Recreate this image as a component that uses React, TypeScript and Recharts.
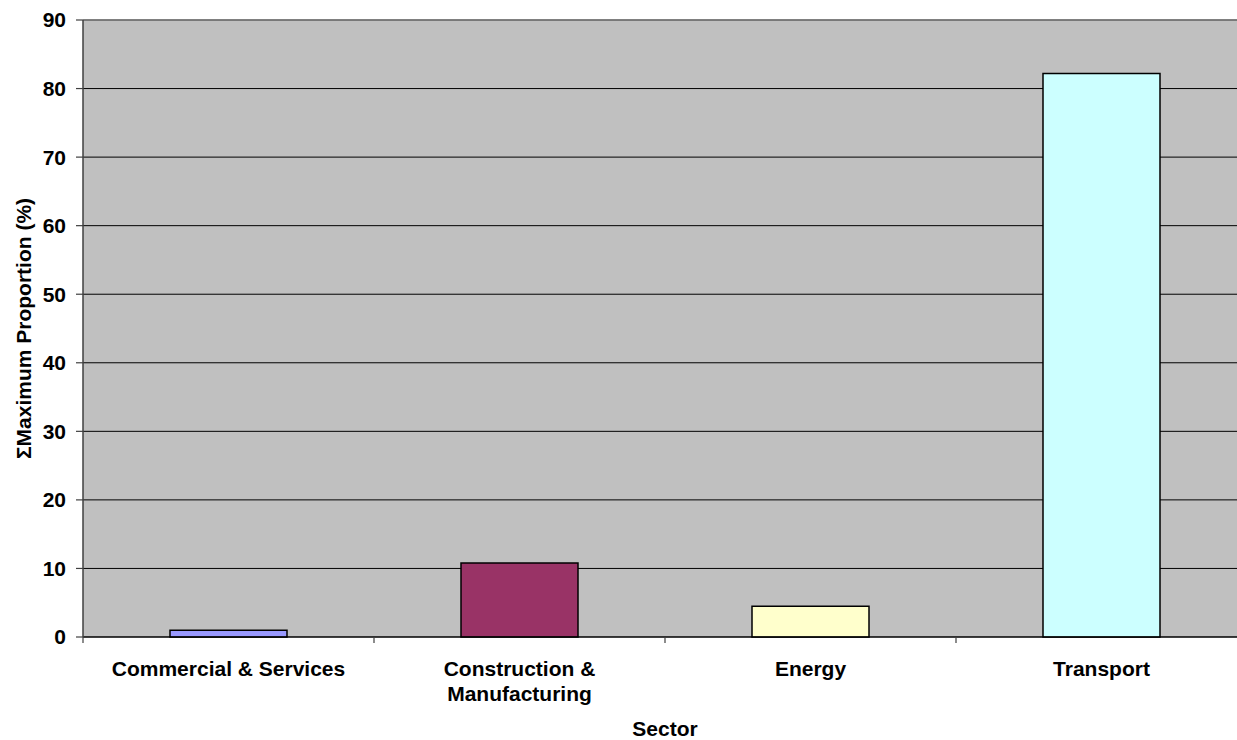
import React from "react";
import { BarChart, Bar, XAxis, YAxis, CartesianGrid, Cell, Label, ReferenceLine } from "recharts";

const categories = ["Commercial & Services", "Construction & Manufacturing", "Energy", "Transport"];
const categoryLabelLines = [["Commercial & Services"], ["Construction &", "Manufacturing"], ["Energy"], ["Transport"]];
const proportions = [1.0, 10.8, 4.5, 82.2];
const barColors = ["#9999FF", "#993366", "#FFFFCC", "#CCFFFF"];
const yTicks = [0, 10, 20, 30, 40, 50, 60, 70, 80, 90];

const data = categories.map((c, i) => ({ name: c, value: proportions[i], lines: categoryLabelLines[i] }));

const FONT = "'Liberation Sans', Arial, Helvetica, sans-serif";

const XTick = (props: any) => {
  const { x, y, payload, index } = props;
  const half = payload && payload.offset ? payload.offset : 145.5;
  const lines = categoryLabelLines[index] || [String(payload.value)];
  return (
    <g>
      <line x1={x - half} x2={x - half} y1={y} y2={y + 6} stroke="#404040" strokeWidth={1.2} />
      <text x={x} y={y + 39} textAnchor="middle" fontFamily={FONT} fontWeight="bold" fontSize={21} fill="#000">
        {lines.map((l: string, i: number) => (
          <tspan key={i} x={x} dy={i === 0 ? 0 : 25}>{l}</tspan>
        ))}
      </text>
    </g>
  );
};

const YTitle = (props: any) => {
  const vb = props.viewBox || { x: 0, y: 20, width: 83, height: 617 };
  const cx = vb.x + 31;
  const cy = vb.y + vb.height / 2;
  return (
    <text x={cx} y={cy} transform={`rotate(-90, ${cx}, ${cy})`} textAnchor="middle" fontFamily={FONT} fontWeight="bold" fontSize={21} fill="#000">
      ΣMaximum Proportion (%)
    </text>
  );
};

export default function App() {
  return (
    <div style={{ position: "absolute", left: 0, top: 0, width: 1237, height: 740, overflow: "hidden", background: "#fff" }}>
      <BarChart width={1248} height={740} data={data} margin={{ top: 20, right: 1, bottom: 0, left: 0 }} barSize={117}>
        <CartesianGrid vertical={false} fill="#C0C0C0" stroke="#000" strokeWidth={1} fillOpacity={1} />
        <ReferenceLine y={90} stroke="#808080" strokeWidth={1.5} />
        <XAxis
          dataKey="name"
          height={103}
          tickLine={false}
          tickSize={0}
          tickMargin={0}
          axisLine={{ stroke: "#000", strokeWidth: 1.2 }}
          tick={<XTick />}
          interval={0}
        >
          <Label value="Sector" position="insideBottom" offset={4} style={{ fontFamily: FONT, fontWeight: "bold", fontSize: 21, fill: "#000" }} />
        </XAxis>
        <YAxis
          width={83}
          domain={[0, 90]}
          ticks={yTicks}
          interval={0}
          tickSize={7}
          tickMargin={10}
          axisLine={{ stroke: "#404040", strokeWidth: 1.5 }}
          tickLine={{ stroke: "#404040", strokeWidth: 1.2 }}
          tick={{ fontFamily: FONT, fontWeight: "bold", fontSize: 21, fill: "#000" }}
          label={<YTitle />}
        />
        <Bar dataKey="value" isAnimationActive={false} stroke="#000" strokeWidth={1.5}>
          {data.map((d, i) => (
            <Cell key={d.name} fill={barColors[i]} />
          ))}
        </Bar>
      </BarChart>
    </div>
  );
}
